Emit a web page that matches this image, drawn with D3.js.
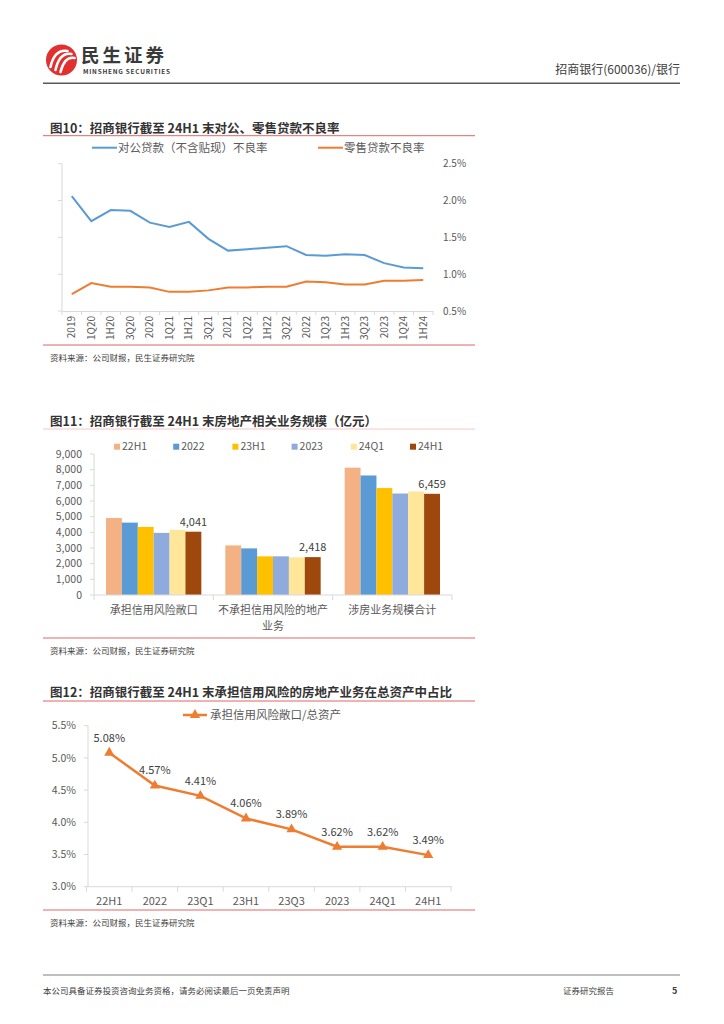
<!DOCTYPE html>
<html>
<head>
<meta charset="utf-8">
<script src="https://cdn.jsdelivr.net/npm/d3@7"></script>
<style>
  body { margin: 0; background: #fff; }
  text { font-family: "Noto Sans CJK SC", "Noto Sans", sans-serif; }
</style>
</head>
<body>
<div id="page"></div>
<script>
// ---- data: chart 10 (NPL ratios, %) ----
const periods10 = ["2019","1Q20","1H20","3Q20","2020","1Q21","1H21","3Q21","2021","1Q22",
                   "1H22","3Q22","2022","1Q23","1H23","3Q23","2023","1Q24","1H24"];
const corpNpl = [2.06,1.72,1.87,1.86,1.70,1.64,1.71,1.48,1.32,1.34,1.36,1.38,1.26,1.25,1.27,1.26,1.15,1.09,1.08];
const retailNpl = [0.73,0.88,0.83,0.83,0.82,0.76,0.76,0.78,0.82,0.82,0.83,0.83,0.90,0.89,0.86,0.86,0.91,0.91,0.92];
const ticks10 = [0.5,1.0,1.5,2.0,2.5];

// ---- data: chart 11 (real estate business, 亿元) ----
const groups11 = ["承担信用风险敞口","不承担信用风险的地产业务","涉房业务规模合计"];
const series11 = ["22H1","2022","23H1","2023","24Q1","24H1"];
const creditExposure = [4916,4620,4346,3966,4156,4041];
const nonCredit = [3165,2975,2468,2468,2405,2418];
const totalRe = [8130,7630,6826,6478,6609,6459];
const ticks11 = [0,1000,2000,3000,4000,5000,6000,7000,8000,9000];

// ---- data: chart 12 (exposure / total assets, %) ----
const periods12 = ["22H1","2022","23Q1","23H1","23Q3","2023","24Q1","24H1"];
const exposureRatio = [5.08,4.57,4.41,4.06,3.89,3.62,3.62,3.49];
const ticks12 = [3.0,3.5,4.0,4.5,5.0,5.5];

const W = 724, H = 1024;
const svg = d3.select("#page").append("svg").attr("width", W).attr("height", H);
svg.append("rect").attr("width", W).attr("height", H).attr("fill", "#fff");

const grayText = "#595959", axisColor = "#d9d9d9", redLine = "#e06666";

// ---------- header ----------
const logo = svg.append("g").attr("transform", "translate(61.5,60)");
logo.append("circle").attr("r", 15.5).attr("fill", "#e0312f");
[[-11, 7, 6, -9], [-6, 10, 10, -6], [-1, 12, 13, -2]].forEach(function(p){
    logo.append("path")
        .attr("d", "M" + p[0] + "," + p[1] + " Q" + (p[0] + 4) + "," + (p[3] - 2) + " " + p[2] + "," + p[3])
        .attr("fill", "none").attr("stroke", "#fff").attr("stroke-width", 2.6).attr("stroke-linecap", "round");
});
svg.append("text").attr("x", 81).attr("y", 61.5).attr("font-size", 18.5).attr("font-weight", "bold")
    .attr("fill", "#3a3a3a").attr("letter-spacing", 3).text("民生证券");
svg.append("text").attr("x", 83).attr("y", 73.5).attr("font-size", 6.4).attr("font-weight", "bold")
    .attr("fill", "#3a3a3a").attr("font-family", "Liberation Sans, Arial, sans-serif")
    .attr("textLength", 87).text("MINSHENG SECURITIES");
svg.append("text").attr("x", 680).attr("y", 74).attr("text-anchor", "end").attr("font-size", 12)
    .attr("fill", "#404040").text("招商银行(600036)/银行");
svg.append("line").attr("x1", 43).attr("x2", 680).attr("y1", 83.3).attr("y2", 83.3)
    .attr("stroke", "#595959").attr("stroke-width", 1.5);

function chartTitle(y, txt, lineY, lineColor) {
    svg.append("text").attr("x", 50).attr("y", y).attr("font-size", 12.5).attr("font-weight", "bold")
        .attr("fill", "#333").text(txt);
    svg.append("line").attr("x1", 43).attr("x2", 475).attr("y1", lineY).attr("y2", lineY)
        .attr("stroke", lineColor).attr("stroke-width", 1);
}
function sourceNote(lineY) {
    svg.append("line").attr("x1", 43).attr("x2", 475).attr("y1", lineY).attr("y2", lineY)
        .attr("stroke", redLine).attr("stroke-width", 1);
    svg.append("text").attr("x", 50).attr("y", lineY + 16).attr("font-size", 8.5)
        .attr("fill", "#404040").text("资料来源：公司财报，民生证券研究院");
}

// ---------- chart 10 ----------
chartTitle(133, "图10：招商银行截至 24H1 末对公、零售贷款不良率", 135.7, redLine);

const x10 = d3.scaleBand().domain(periods10).range([62, 433]);
const y10 = d3.scaleLinear().domain([0.5, 2.5]).range([311, 163.7]);

// left axis (no labels), right labels
svg.append("line").attr("x1", 62).attr("x2", 62).attr("y1", y10(2.5)).attr("y2", y10(0.5)).attr("stroke", axisColor);
svg.selectAll(".t10").data(ticks10).enter().append("line")
    .attr("x1", 58).attr("x2", 62).attr("y1", d => y10(d)).attr("y2", d => y10(d)).attr("stroke", axisColor);
svg.selectAll(".l10").data(ticks10).enter().append("text")
    .attr("x", 443).attr("y", d => y10(d)).attr("dy", "0.35em").attr("font-size", 10)
    .attr("fill", grayText).text(d => d.toFixed(1) + "%");

const xAxis10 = svg.append("g").attr("transform", "translate(0," + y10(0.5) + ")")
    .call(d3.axisBottom(x10).tickSize(0).tickFormat(""));
xAxis10.select(".domain").attr("stroke", axisColor);
svg.selectAll(".xt10").data(periods10.concat(["end"])).enter().append("line")
    .attr("x1", (d, i) => 62 + i * x10.step()).attr("x2", (d, i) => 62 + i * x10.step())
    .attr("y1", y10(0.5)).attr("y2", y10(0.5) + 4).attr("stroke", axisColor);
svg.selectAll(".xl10").data(periods10).enter().append("text")
    .attr("transform", d => "translate(" + (x10(d) + x10.bandwidth() / 2) + "," + (y10(0.5) + 5) + ") rotate(-90)")
    .attr("text-anchor", "end").attr("dy", "0.35em").attr("font-size", 10).attr("fill", grayText).text(d => d);

const line10 = d3.line().x((d, i) => x10(periods10[i]) + x10.bandwidth() / 2).y(d => y10(d));
svg.append("path").datum(corpNpl).attr("d", line10).attr("fill", "none").attr("stroke", "#5b9bd5").attr("stroke-width", 2);
svg.append("path").datum(retailNpl).attr("d", line10).attr("fill", "none").attr("stroke", "#ed7d31").attr("stroke-width", 2);

// legend
[{c: "#5b9bd5", t: "对公贷款（不含贴现）不良率", x: 92}, {c: "#ed7d31", t: "零售贷款不良率", x: 318}].forEach(function(l){
    svg.append("line").attr("x1", l.x).attr("x2", l.x + 25).attr("y1", 147.7).attr("y2", 147.7)
        .attr("stroke", l.c).attr("stroke-width", 2);
    svg.append("text").attr("x", l.x + 26).attr("y", 147.7).attr("dy", "0.35em").attr("font-size", 11.5)
        .attr("fill", grayText).text(l.t);
});
sourceNote(345);

// ---------- chart 11 ----------
chartTitle(426, "图11：招商银行截至 24H1 末房地产相关业务规模（亿元）", 429, "#f4c7c7");

const colors11 = d3.scaleOrdinal().domain(series11)
    .range(["#f4b183", "#5b9bd5", "#ffc000", "#8faadc", "#ffe699", "#9e480e"]);
const x11 = d3.scaleBand().domain(groups11).range([94, 452]);
const x11s = d3.scaleBand().domain(series11).range([12, x11.bandwidth() - 12]);
const y11 = d3.scaleLinear().domain([0, 9000]).range([595, 454]);
const values11 = [creditExposure, nonCredit, totalRe];

svg.append("line").attr("x1", 94).attr("x2", 94).attr("y1", y11(9000)).attr("y2", y11(0)).attr("stroke", axisColor);
svg.selectAll(".t11").data(ticks11).enter().append("line")
    .attr("x1", 90).attr("x2", 94).attr("y1", d => y11(d)).attr("y2", d => y11(d)).attr("stroke", axisColor);
svg.selectAll(".l11").data(ticks11).enter().append("text")
    .attr("x", 82).attr("y", d => y11(d)).attr("dy", "0.35em").attr("text-anchor", "end")
    .attr("font-size", 10.5).attr("fill", grayText).text(d => d3.format(",")(d));

groups11.forEach(function(g, gi){
    const grp = svg.append("g").attr("transform", "translate(" + x11(g) + ",0)");
    grp.selectAll("rect").data(series11).enter().append("rect")
        .attr("x", d => x11s(d)).attr("width", x11s.bandwidth())
        .attr("y", (d, i) => y11(values11[gi][i]))
        .attr("height", (d, i) => y11(0) - y11(values11[gi][i]))
        .attr("fill", d => colors11(d));
    const last = series11.length - 1;
    grp.append("text").attr("x", x11s(series11[last]) + x11s.bandwidth() / 2)
        .attr("y", y11(values11[gi][last]) - 6).attr("text-anchor", "middle")
        .attr("font-size", 11).attr("fill", "#404040").text(d3.format(",")(values11[gi][last]));
});
svg.append("line").attr("x1", 94).attr("x2", 452).attr("y1", y11(0)).attr("y2", y11(0)).attr("stroke", axisColor);
svg.selectAll(".xt11").data([0, 1, 2, 3]).enter().append("line")
    .attr("x1", d => 94 + d * x11.step()).attr("x2", d => 94 + d * x11.step())
    .attr("y1", y11(0)).attr("y2", y11(0) + 5).attr("stroke", axisColor);
const label11Lines = [["承担信用风险敞口"], ["不承担信用风险的地产", "业务"], ["涉房业务规模合计"]];
groups11.forEach(function(g, gi){
    label11Lines[gi].forEach(function(t, li){
        svg.append("text").attr("x", x11(g) + x11.bandwidth() / 2).attr("y", 613.5 + li * 16)
            .attr("text-anchor", "middle").attr("font-size", 11).attr("fill", grayText).text(t);
    });
});
series11.forEach(function(s, i){
    const lx = 114 + i * 59.2;
    svg.append("rect").attr("x", lx).attr("y", 443.7).attr("width", 6).attr("height", 6).attr("fill", colors11(s));
    svg.append("text").attr("x", lx + 8).attr("y", 446.7).attr("dy", "0.35em").attr("font-size", 10.5)
        .attr("fill", grayText).text(s);
});
sourceNote(638);

// ---------- chart 12 ----------
chartTitle(697, "图12：招商银行截至 24H1 末承担信用风险的房地产业务在总资产中占比", 701, redLine);

const x12 = d3.scaleBand().domain(periods12).range([86.5, 451]);
const y12 = d3.scaleLinear().domain([3.0, 5.5]).range([886.7, 725.7]);
const orange = "#ed7d31";

svg.append("line").attr("x1", 88).attr("x2", 88).attr("y1", y12(5.5)).attr("y2", y12(3.0)).attr("stroke", axisColor);
svg.selectAll(".t12").data(ticks12).enter().append("line")
    .attr("x1", 84).attr("x2", 88).attr("y1", d => y12(d)).attr("y2", d => y12(d)).attr("stroke", axisColor);
svg.selectAll(".l12").data(ticks12).enter().append("text")
    .attr("x", 76).attr("y", d => y12(d)).attr("dy", "0.35em").attr("text-anchor", "end")
    .attr("font-size", 10.5).attr("fill", grayText).text(d => d.toFixed(1) + "%");
svg.append("line").attr("x1", 88).attr("x2", 452).attr("y1", y12(3.0)).attr("y2", y12(3.0)).attr("stroke", axisColor);
svg.selectAll(".xt12").data(d3.range(periods12.length + 1)).enter().append("line")
    .attr("x1", d => 86.5 + d * x12.step()).attr("x2", d => 86.5 + d * x12.step())
    .attr("y1", y12(3.0)).attr("y2", y12(3.0) + 5).attr("stroke", axisColor);
svg.selectAll(".xl12").data(periods12).enter().append("text")
    .attr("x", d => x12(d) + x12.bandwidth() / 2).attr("y", 905).attr("text-anchor", "middle")
    .attr("font-size", 11).attr("fill", grayText).text(d => d);

const cx12 = i => x12(periods12[i]) + x12.bandwidth() / 2;
svg.append("path").datum(exposureRatio)
    .attr("d", d3.line().x((d, i) => cx12(i)).y(d => y12(d)))
    .attr("fill", "none").attr("stroke", orange).attr("stroke-width", 2.5);
const tri = d3.symbol().type(d3.symbolTriangle).size(45);
svg.selectAll(".m12").data(exposureRatio).enter().append("path")
    .attr("d", tri).attr("transform", (d, i) => "translate(" + cx12(i) + "," + y12(d) + ")").attr("fill", orange);
svg.selectAll(".v12").data(exposureRatio).enter().append("text")
    .attr("x", (d, i) => cx12(i)).attr("y", d => y12(d) - 15).attr("dy", "0.35em").attr("text-anchor", "middle")
    .attr("font-size", 11).attr("fill", "#404040").text(d => d.toFixed(2) + "%");

svg.append("line").attr("x1", 183).attr("x2", 207).attr("y1", 715).attr("y2", 715).attr("stroke", orange).attr("stroke-width", 2.5);
svg.append("path").attr("d", tri).attr("transform", "translate(195,715)").attr("fill", orange);
svg.append("text").attr("x", 210).attr("y", 715).attr("dy", "0.35em").attr("font-size", 11.5)
    .attr("fill", grayText).text("承担信用风险敞口/总资产");
sourceNote(910);

// ---------- footer ----------
svg.append("line").attr("x1", 43).attr("x2", 680).attr("y1", 975).attr("y2", 975).attr("stroke", "#808080").attr("stroke-width", 1);
svg.append("text").attr("x", 43).attr("y", 994).attr("font-size", 8.5).attr("fill", "#404040")
    .text("本公司具备证券投资咨询业务资格，请务必阅读最后一页免责声明");
svg.append("text").attr("x", 563).attr("y", 994).attr("font-size", 8.5).attr("fill", "#404040").text("证券研究报告");
svg.append("text").attr("x", 672).attr("y", 994).attr("font-size", 9).attr("font-weight", "bold").attr("fill", "#404040").text("5");
</script>
</body>
</html>
